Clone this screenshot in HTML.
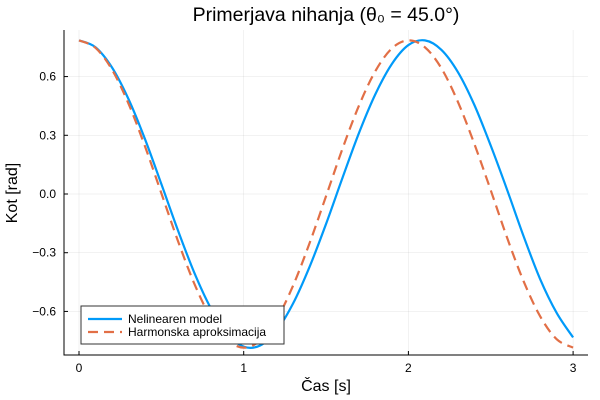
<!DOCTYPE html>
<html><head><meta charset="utf-8"><style>
body{margin:0;background:#fff;}
svg{display:block;font-family:"Liberation Sans","DejaVu Sans",sans-serif;}
</style></head><body>
<svg id="chart" width="600" height="400">
<rect width="600" height="400" fill="#fff"/>
<g id="grid"></g>
<g id="axes"></g>
<g id="series"></g>
<text x="326" y="21" font-size="19.5" text-anchor="middle" fill="#000">Primerjava nihanja (θ₀ = 45.0°)</text>
<text x="326" y="391" font-size="16" text-anchor="middle">Čas [s]</text>
<text transform="translate(17,193) rotate(-90)" font-size="16" text-anchor="middle">Kot [rad]</text>
<g>
<rect x="81" y="306" width="203" height="38" fill="#fff" stroke="#333" stroke-width="1"/>
<line x1="88" y1="319" x2="122" y2="319" stroke="#009af9" stroke-width="2.2"/>
<text x="128" y="323" font-size="12">Nelinearen model</text>
<line x1="88" y1="332" x2="122" y2="332" stroke="#e26f46" stroke-width="2.2" stroke-dasharray="10,6"/>
<text x="128" y="336" font-size="12">Harmonska aproksimacija</text>
</g>
</svg>
<script>
const times=[0,0.1,0.2,0.3,0.4,0.5,0.6,0.7,0.8,0.9,1.0,1.1,1.2,1.3,1.4,1.5,1.6,1.7,1.8,1.9,2.0,2.1,2.2,2.3,2.4,2.5,2.6,2.7,2.8,2.9,3.0];
const nonlinear=[0.785,0.750,0.647,0.486,0.282,0.051,-0.184,-0.402,-0.583,-0.714,-0.780,-0.774,-0.697,-0.559,-0.372,-0.153,0.083,0.312,0.511,0.665,0.761,0.785,0.737,0.624,0.456,0.247,0.020,-0.217,-0.435,-0.607,-0.733];
const harmonic=[0.785,0.747,0.636,0.463,0.245,0.004,-0.238,-0.458,-0.632,-0.745,-0.785,-0.749,-0.640,-0.468,-0.251,-0.011,0.232,0.452,0.629,0.744,0.785,0.750,0.643,0.472,0.257,0.019,-0.225,-0.447,-0.625,-0.742,-0.785];
const xTicks=[0,1,2,3];
const yTicks=[0.6,0.3,0.0,-0.3,-0.6];
const yTickLabels=["0.6","0.3","0.0","−0.3","−0.6"];
const NS="http://www.w3.org/2000/svg";
const X0=64,X1=588,Y0=30,Y1=355;
function sx(t){return 79+t*164.7;}
function sy(v){return 194-v*195.7;}
function mk(tag,attrs,parent){const e=document.createElementNS(NS,tag);for(const k in attrs)e.setAttribute(k,attrs[k]);parent.appendChild(e);return e;}
const grid=document.getElementById('grid'),axes=document.getElementById('axes'),series=document.getElementById('series');
xTicks.forEach(t=>{
 const g=mk('line',{x1:sx(t),x2:sx(t),y1:Y0,y2:Y1,stroke:'#000','stroke-opacity':0.1,'stroke-width':0.5},grid);
 
 
 const tk=mk('line',{x1:sx(t),x2:sx(t),y1:Y1,y2:Y1-4,stroke:'#000','stroke-width':1},axes);
 
 
 const lb=mk('text',{x:sx(t),y:372,'font-size':12,'text-anchor':'middle'},axes);
 lb.textContent=String(t);
 
 
});
yTicks.forEach((v,i)=>{
 const g=mk('line',{x1:X0,x2:X1,y1:sy(v),y2:sy(v),stroke:'#000','stroke-opacity':0.1,'stroke-width':0.5},grid);
 
 
 const tk=mk('line',{x1:X0,x2:X0+4,y1:sy(v),y2:sy(v),stroke:'#000','stroke-width':1},axes);
 
 
 const lb=mk('text',{x:X0-8,y:sy(v)+4,'font-size':12,'text-anchor':'end'},axes);
 lb.textContent=yTickLabels[i];
 
 
});
const ax=mk('path',{d:`M${X0},${Y0}V${Y1}H${X1}`,fill:'none',stroke:'#000','stroke-width':1},axes);


function smooth(vals){
 const p=vals.map((v,i)=>[sx(times[i]),sy(v)]);
 let d=`M${p[0][0]},${p[0][1]}`;
 for(let i=0;i<p.length-1;i++){
  const a=p[Math.max(i-1,0)],b=p[i],c=p[i+1],e=p[Math.min(i+2,p.length-1)];
  const c1=[b[0]+(c[0]-a[0])/6,b[1]+(c[1]-a[1])/6],c2=[c[0]-(e[0]-b[0])/6,c[1]-(e[1]-b[1])/6];
  d+=`C${c1[0]},${c1[1]} ${c2[0]},${c2[1]} ${c[0]},${c[1]}`;
 }
 return d;
}
const l1=mk('path',{d:smooth(nonlinear),fill:'none',stroke:'#009af9','stroke-width':2.2},series);


const l2=mk('path',{d:smooth(harmonic),fill:'none',stroke:'#e26f46','stroke-width':2.2,'stroke-dasharray':'10,6'},series);


</script>
</body></html>
